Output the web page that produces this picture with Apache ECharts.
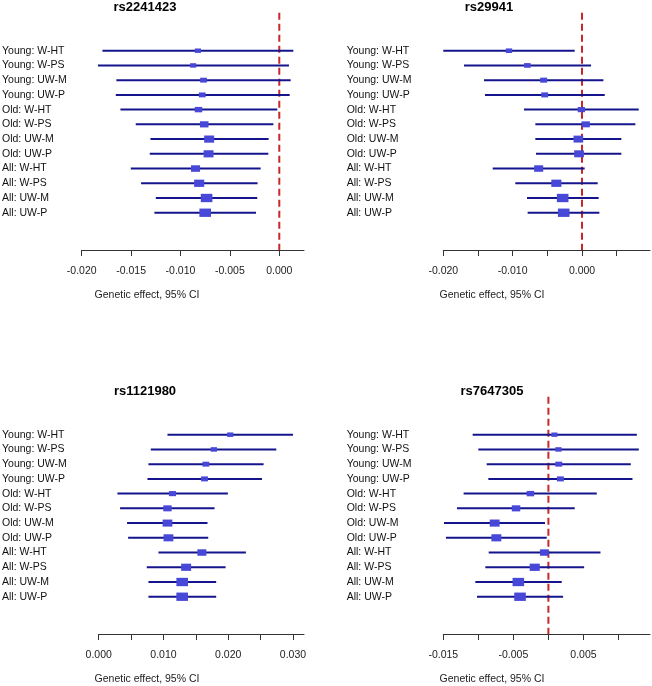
<!DOCTYPE html>
<html>
<head>
<meta charset="utf-8">
<script src="https://cdn.jsdelivr.net/npm/echarts@6/dist/echarts.min.js"></script>
<style>
  html, body { margin: 0; background: #fff; }
  #chart { width: 652px; height: 686px; }
</style>
</head>
<body>
<div id="chart"></div>
<script>
// row labels, top to bottom
const rowLabels = ['Young: W-HT', 'Young: W-PS', 'Young: UW-M', 'Young: UW-P',
  'Old: W-HT', 'Old: W-PS', 'Old: UW-M', 'Old: UW-P',
  'All: W-HT', 'All: W-PS', 'All: UW-M', 'All: UW-P'];

// rs2241423
const rs2241423Est = [-0.00824, -0.00872, -0.00767, -0.0078, -0.00818, -0.0076, -0.0071, -0.00716, -0.00848, -0.00811, -0.00736, -0.0075];
const rs2241423Lo = [-0.0179, -0.01835, -0.01649, -0.01655, -0.01608, -0.01453, -0.01304, -0.01311, -0.01503, -0.01399, -0.0125, -0.01264];
const rs2241423Hi = [0.00142, 0.00098, 0.00115, 0.00105, -0.0002, -0.0006, -0.00108, -0.00111, -0.00189, -0.0022, -0.00223, -0.00236];
const rs2241423Ticks = [-0.02, -0.015, -0.01, -0.005, 0];
const rs2241423TickLabels = [-0.02, -0.015, -0.01, -0.005, 0];

// rs29941
const rs29941Est = [-0.01053, -0.00788, -0.00553, -0.00538, -0.0001, 0.00053, -0.00053, -0.00043, -0.00625, -0.0037, -0.00279, -0.00264];
const rs29941Lo = [-0.02, -0.01702, -0.01413, -0.01399, -0.00837, -0.00673, -0.00673, -0.00663, -0.01288, -0.00962, -0.00793, -0.00784];
const rs29941Hi = [-0.00106, 0.0013, 0.00308, 0.00327, 0.00817, 0.00769, 0.00567, 0.00567, 0.00038, 0.00226, 0.0024, 0.0025];
const rs29941Ticks = [-0.02, -0.015, -0.01, -0.005, 0, 0.005];
const rs29941TickLabels = [-0.02, -0.01, 0];

// rs1121980
const rs1121980Est = [0.02031, 0.01778, 0.01655, 0.01634, 0.01139, 0.01062, 0.01062, 0.01077, 0.01593, 0.0135, 0.01289, 0.01289];
const rs1121980Lo = [0.01062, 0.00804, 0.00768, 0.00753, 0.00289, 0.0033, 0.00438, 0.00454, 0.00923, 0.00742, 0.00768, 0.00768];
const rs1121980Hi = [0.03, 0.02742, 0.02546, 0.02521, 0.01995, 0.01789, 0.0168, 0.01691, 0.02273, 0.01959, 0.01814, 0.01814];
const rs1121980Ticks = [0, 0.005, 0.01, 0.015, 0.02, 0.025, 0.03];
const rs1121980TickLabels = [0, 0.01, 0.02, 0.03];

// rs7647305
const rs7647305Est = [0.00086, 0.00143, 0.00148, 0.00171, -0.00257, -0.00462, -0.00767, -0.00743, -0.00057, -0.00195, -0.00429, -0.00405];
const rs7647305Lo = [-0.01081, -0.01, -0.00881, -0.00857, -0.0121, -0.01305, -0.0149, -0.01462, -0.00852, -0.009, -0.01043, -0.01019];
const rs7647305Hi = [0.01262, 0.0129, 0.01176, 0.012, 0.0069, 0.00376, -0.00048, -0.00024, 0.00743, 0.0051, 0.0019, 0.0021];
const rs7647305Ticks = [-0.015, -0.01, -0.005, 0, 0.005, 0.01];
const rs7647305TickLabels = [-0.015, -0.005, 0.005];

const panels = [
  { name: 'rs2241423', est: rs2241423Est, lo: rs2241423Lo, hi: rs2241423Hi, ticks: rs2241423Ticks, labels: rs2241423TickLabels,
    min: -0.02, max: 0.0025, left: 81.7, top: 12.7, width: 222.3, labelX: 2, titleX: 145, capX: 147 },
  { name: 'rs29941', est: rs29941Est, lo: rs29941Lo, hi: rs29941Hi, ticks: rs29941Ticks, labels: rs29941TickLabels,
    min: -0.02, max: 0.0098, left: 443.3, top: 12.7, width: 206.7, labelX: 346.7, titleX: 489, capX: 492 },
  { name: 'rs1121980', est: rs1121980Est, lo: rs1121980Lo, hi: rs1121980Hi, ticks: rs1121980Ticks, labels: rs1121980TickLabels,
    min: 0, max: 0.0317, left: 98.7, top: 396.7, width: 205.3, labelX: 2, titleX: 145, capX: 147 },
  { name: 'rs7647305', est: rs7647305Est, lo: rs7647305Lo, hi: rs7647305Hi, ticks: rs7647305Ticks, labels: rs7647305TickLabels,
    min: -0.015, max: 0.0145, left: 443.3, top: 396.7, width: 206.7, labelX: 346.7, titleX: 492, capX: 492 }
];

const FONT = '"Liberation Sans", Arial, sans-serif';
const gridH = 237.3;
const yMin = -1.58, yMax = 14.53;

const grids = [], xAxes = [], yAxes = [], series = [], graphics = [];

panels.forEach((p, k) => {
  grids.push({ left: p.left, top: p.top, width: p.width, height: gridH, outerBoundsMode: 'none', containLabel: false });
  xAxes.push({
    type: 'value', gridIndex: k, min: p.min, max: p.max, interval: 0.005,
    splitLine: { show: false },
    axisLine: { show: true, onZero: false, lineStyle: { color: '#333', width: 1 } },
    axisTick: { show: true, length: 6, customValues: p.ticks, lineStyle: { color: '#333' } },
    axisLabel: { customValues: p.labels, margin: 16, color: '#222', fontFamily: FONT, fontSize: 10.5,
      formatter: v => v.toFixed(3) }
  });
  yAxes.push({
    type: 'value', gridIndex: k, min: yMin, max: yMax, inverse: true,
    splitLine: { show: false }, axisLine: { show: false }, axisTick: { show: false },
    axisLabel: { customValues: rowLabels.map((_, i) => i + 1), align: 'left', margin: p.left - p.labelX,
      color: '#111', fontFamily: FONT, fontSize: 10.5, formatter: v => rowLabels[Math.round(v) - 1] || '' }
  });

  // box size follows precision: widest box for narrowest interval
  const widths = p.lo.map((l, i) => p.hi[i] - l);
  const minW = Math.min(...widths);
  const data = p.est.map((e, i) => [p.lo[i], p.hi[i], e, i + 1, 11.6 * minW / widths[i]]);

  if (p.min < 0) {
    series.push({
      type: 'line', xAxisIndex: k, yAxisIndex: k, data: [[0, yMin], [0, yMax]], symbol: 'none', silent: true,
      lineStyle: { color: '#c62828', width: 2, type: [7, 4] }, z: 1
    });
  }
  series.push({
    type: 'custom', xAxisIndex: k, yAxisIndex: k, data: data, z: 2,
    renderItem: (params, api) => {
      const a = api.coord([api.value(0), api.value(3)]);
      const b = api.coord([api.value(1), api.value(3)]);
      const c = api.coord([api.value(2), api.value(3)]);
      const w = api.value(4), h = w * 0.72;
      return {
        type: 'group',
        children: [
          { type: 'line', shape: { x1: a[0], y1: a[1], x2: b[0], y2: b[1] }, style: { stroke: '#14148c', lineWidth: 2 } },
          { type: 'rect', shape: { x: c[0] - w / 2, y: c[1] - h / 2, width: w, height: h }, style: { fill: '#4848d8' } }
        ]
      };
    }
  });

  graphics.push({ type: 'text', x: p.titleX, y: p.top - 5.5, style: { text: p.name, align: 'center', verticalAlign: 'middle',
    font: 'bold 13px ' + FONT, fill: '#000' } });
  graphics.push({ type: 'text', x: p.capX, y: p.top + 282.5, style: { text: 'Genetic effect, 95% CI', align: 'center',
    verticalAlign: 'middle', font: '10.5px ' + FONT, fill: '#222' } });
});

const chart = echarts.init(document.getElementById('chart'), null, { renderer: 'canvas' });
chart.setOption({
  backgroundColor: '#fff',
  animation: false,
  grid: grids,
  xAxis: xAxes,
  yAxis: yAxes,
  series: series,
  graphic: graphics
});
</script>
</body>
</html>
